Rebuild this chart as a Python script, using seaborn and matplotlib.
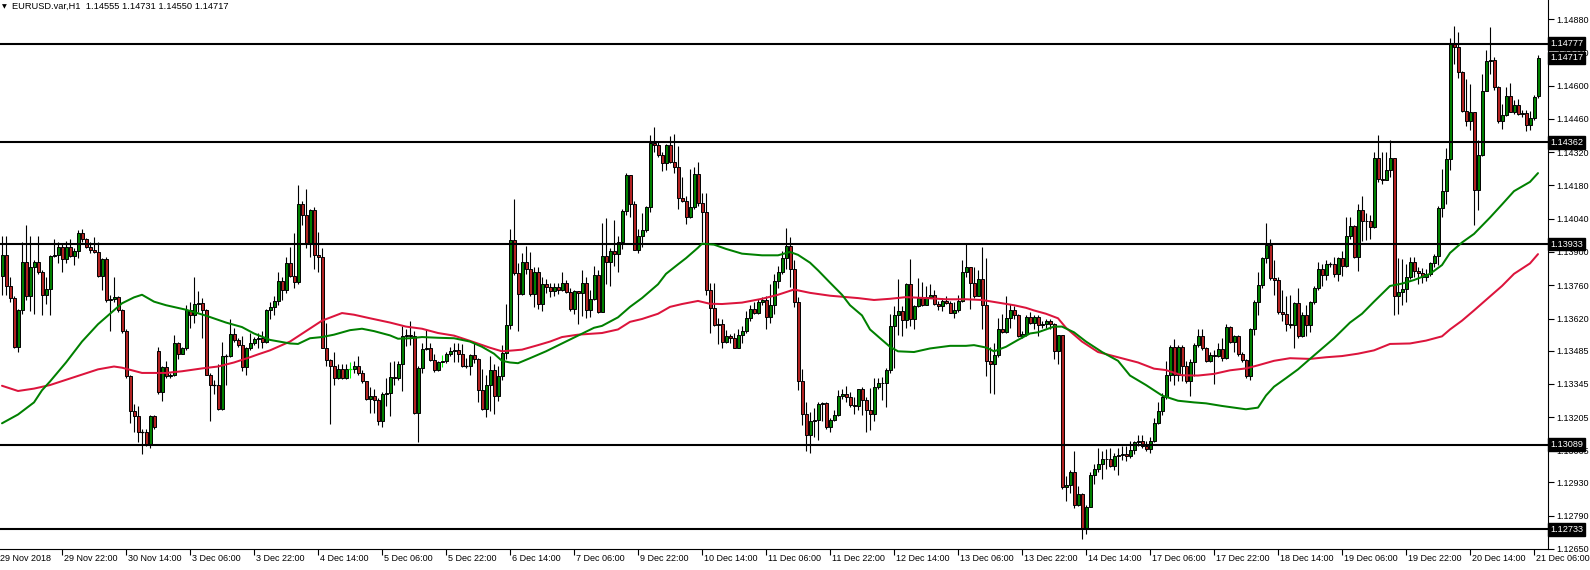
import numpy as np
import pandas as pd
import matplotlib
matplotlib.use("Agg")
import matplotlib.pyplot as plt
import seaborn as sns

# ---------------- data (prices in 1e-5 units, i.e. 113888 = 1.13888) ----------------
header_text = "EURUSD.var,H1  1.14555 1.14731 1.14550 1.14717"

first_open_pts = 113801
gap_open_pts = {39: 113482, 384: 114555}

close_pts = [
    113888, 113757, 113706, 113501, 113657, 113859, 113713, 113837, 113859, 113815, 113720, 113745, 113884, 113888, 113922, 113869, 113922, 113885, 113903, 113979,
    113954, 113922, 113907, 113900, 113801, 113869, 113698, 113701, 113710, 113654, 113567, 113377, 113230, 113208, 113143, 113143, 113087, 113211, 113165, 113311,
    113418, 113377, 113384, 113518, 113472, 113497, 113657, 113633, 113679, 113687, 113657, 113384, 113340, 113340, 113241, 113464, 113464, 113555, 113530, 113508,
    113416, 113494, 113515, 113533, 113537, 113523, 113657, 113669, 113694, 113776, 113739, 113855, 113798, 113774, 114103, 114057, 113935, 114076, 113888, 113878,
    113498, 113445, 113421, 113369, 113409, 113369, 113409, 113409, 113421, 113391, 113355, 113282, 113296, 113277, 113187, 113304, 113307, 113372, 113369, 113428,
    113545, 113552, 113548, 113223, 113413, 113491, 113494, 113445, 113402, 113438, 113442, 113469, 113482, 113489, 113471, 113421, 113421, 113467, 113450, 113321,
    113241, 113340, 113403, 113296, 113377, 113475, 113592, 113950, 113811, 113723, 113859, 113830, 113723, 113815, 113681, 113764, 113752, 113735, 113752, 113742,
    113771, 113732, 113662, 113735, 113728, 113771, 113654, 113703, 113805, 113647, 113884, 113859, 113903, 113893, 113940, 114071, 114225, 114103, 113910, 113969,
    113991, 114089, 114359, 114352, 114310, 114276, 114352, 114280, 114258, 114127, 114115, 114049, 114089, 114229, 114105, 114068, 113742, 113666, 113593, 113599,
    113523, 113545, 113537, 113497, 113552, 113567, 113621, 113659, 113644, 113691, 113698, 113628, 113676, 113776, 113815, 113874, 113925, 113830, 113691, 113355,
    113220, 113128, 113187, 113191, 113260, 113263, 113165, 113194, 113213, 113296, 113301, 113289, 113255, 113252, 113323, 113277, 113235, 113219, 113333, 113347,
    113350, 113402, 113588, 113635, 113650, 113615, 113764, 113618, 113672, 113706, 113676, 113709, 113720, 113679, 113673, 113694, 113684, 113644, 113654, 113694,
    113815, 113837, 113771, 113716, 113786, 113676, 113442, 113428, 113467, 113577, 113564, 113621, 113657, 113633, 113545, 113555, 113625, 113603, 113625, 113593,
    113599, 113611, 113596, 113484, 113549, 112909, 112919, 112972, 112836, 112880, 112733, 112828, 112963, 112985, 113007, 113030, 113029, 112999, 113040, 113045,
    113051, 113043, 113065, 113099, 113103, 113084, 113070, 113106, 113179, 113230, 113289, 113384, 113501, 113384, 113501, 113421, 113355, 113435, 113508, 113545,
    113494, 113442, 113467, 113462, 113491, 113453, 113584, 113523, 113545, 113469, 113445, 113380, 113577, 113691, 113760, 113874, 113931, 113789, 113782, 113647,
    113640, 113596, 113592, 113684, 113545, 113633, 113593, 113688, 113750, 113827, 113804, 113849, 113849, 113808, 113874, 113840, 113969, 114008, 113881, 114076,
    114030, 114032, 114005, 114295, 114207, 114203, 114247, 114295, 113713, 113731, 113745, 113793, 113859, 113820, 113812, 113793, 113808, 113852, 113885, 114086,
    114156, 114293, 114777, 114763, 114659, 114495, 114451, 114488, 114159, 114310, 114578, 114703, 114707, 114595, 114451, 114478, 114558, 114491, 114517, 114480,
    114485, 114434, 114463, 114554, 114717,
]

high_pts = [
    113969, 113969, 113793, 113713, 113662, 113940, 114013, 113969, 113866, 113969, 113823, 113793, 113888, 113954, 113940, 113932, 113947, 113954, 113918, 113991,
    113998, 113957, 113940, 113962, 113940, 113874, 113881, 113720, 113793, 113713, 113662, 113574, 113384, 113260, 113252, 113157, 113157, 113213, 113216, 113501,
    113421, 113442, 113391, 113552, 113523, 113501, 113676, 113691, 113793, 113735, 113706, 113662, 113391, 113362, 113428, 113523, 113471, 113618, 113581, 113537,
    113548, 113501, 113559, 113544, 113559, 113567, 113662, 113691, 113713, 113815, 113793, 113878, 113922, 113979, 114181, 114115, 114166, 114081, 114090, 113983,
    113918, 113600, 113450, 113479, 113428, 113428, 113428, 113435, 113442, 113462, 113402, 113358, 113333, 113325, 113285, 113311, 113369, 113435, 113442, 113442,
    113588, 113574, 113611, 113567, 113421, 113515, 113577, 113515, 113471, 113442, 113467, 113479, 113501, 113515, 113515, 113511, 113454, 113471, 113518, 113454,
    113406, 113384, 113462, 113428, 113421, 113508, 113679, 113995, 114122, 113852, 113896, 113925, 113899, 113837, 113837, 113793, 113786, 113771, 113771, 113771,
    113815, 113782, 113750, 113738, 113735, 113823, 113793, 113742, 113840, 113823, 114024, 114042, 113918, 114035, 113969, 114081, 114232, 114225, 114115, 113998,
    114064, 114093, 114393, 114425, 114364, 114320, 114356, 114390, 114397, 114345, 114217, 114137, 114251, 114258, 114279, 114147, 114147, 113771, 113771, 113621,
    113618, 113571, 113555, 113559, 113574, 113588, 113650, 113676, 113691, 113701, 113709, 113713, 113767, 113808, 113840, 113903, 114001, 113964, 113866, 113709,
    113406, 113270, 113226, 113245, 113270, 113270, 113267, 113201, 113237, 113318, 113325, 113337, 113311, 113289, 113325, 113333, 113289, 113328, 113369, 113369,
    113372, 113413, 113640, 113673, 113786, 113673, 113771, 113869, 113676, 113789, 113774, 113757, 113767, 113742, 113694, 113706, 113713, 113694, 113691, 113720,
    113866, 113933, 113837, 113837, 113823, 113921, 113874, 113501, 113515, 113621, 113640, 113713, 113679, 113673, 113640, 113567, 113633, 113647, 113633, 113633,
    113611, 113618, 113618, 113603, 113552, 113552, 112957, 112982, 113062, 112916, 112887, 112836, 112972, 113007, 113074, 113062, 113070, 113077, 113055, 113077,
    113084, 113084, 113103, 113106, 113131, 113128, 113106, 113121, 113201, 113267, 113308, 113442, 113508, 113533, 113508, 113508, 113442, 113450, 113515, 113574,
    113574, 113501, 113479, 113486, 113515, 113537, 113596, 113588, 113552, 113552, 113479, 113450, 113581, 113698, 113815, 113881, 114020, 113954, 113866, 113796,
    113742, 113713, 113720, 113691, 113750, 113647, 113676, 113694, 113757, 113859, 113849, 113866, 113859, 113881, 113881, 113903, 114049, 114049, 114013, 114100,
    114137, 114064, 114057, 114320, 114393, 114320, 114320, 114371, 114295, 113874, 113869, 113849, 113881, 113881, 113837, 113833, 113830, 113859, 113893, 114093,
    114251, 114337, 114802, 114853, 114824, 114663, 114627, 114605, 114488, 114371, 114649, 114751, 114846, 114719, 114597, 114521, 114593, 114612, 114539, 114542,
    114498, 114498, 114495, 114561, 114731,
]

low_pts = [
    113720, 113720, 113691, 113494, 113479, 113640, 113698, 113650, 113640, 113808, 113633, 113679, 113635, 113881, 113852, 113815, 113852, 113881, 113845, 113874,
    113940, 113918, 113896, 113896, 113793, 113742, 113691, 113567, 113691, 113647, 113559, 113369, 113179, 113143, 113099, 113048, 113084, 113077, 113157, 113304,
    113274, 113369, 113369, 113377, 113450, 113469, 113486, 113581, 113603, 113647, 113537, 113384, 113187, 113304, 113237, 113235, 113340, 113457, 113523, 113501,
    113398, 113384, 113486, 113508, 113494, 113494, 113515, 113618, 113633, 113676, 113698, 113728, 113793, 113749, 113764, 114013, 113918, 113881, 113830, 113815,
    113494, 113421, 113176, 113340, 113367, 113367, 113367, 113369, 113391, 113384, 113347, 113279, 113223, 113223, 113172, 113162, 113252, 113211, 113340, 113362,
    113315, 113504, 113508, 113220, 113099, 113391, 113486, 113442, 113396, 113398, 113418, 113431, 113464, 113435, 113435, 113416, 113410, 113384, 113431, 113270,
    113237, 113204, 113230, 113220, 113274, 113362, 113450, 113574, 113804, 113567, 113720, 113808, 113713, 113669, 113662, 113652, 113728, 113709, 113713, 113723,
    113735, 113728, 113652, 113640, 113599, 113630, 113621, 113625, 113698, 113644, 113647, 113767, 113757, 113840, 113815, 113913, 114054, 114049, 113907, 113896,
    113922, 113986, 114068, 114320, 114298, 114242, 114244, 114276, 114232, 114081, 114112, 114016, 114045, 114083, 114093, 113940, 113720, 113559, 113589, 113511,
    113497, 113515, 113515, 113494, 113494, 113515, 113559, 113611, 113640, 113640, 113676, 113574, 113603, 113640, 113749, 113808, 113830, 113752, 113669, 113318,
    113172, 113063, 113055, 113121, 113109, 113187, 113157, 113143, 113187, 113208, 113282, 113270, 113248, 113219, 113237, 113216, 113143, 113150, 113187, 113325,
    113277, 113249, 113391, 113413, 113552, 113545, 113581, 113588, 113577, 113669, 113673, 113676, 113706, 113676, 113654, 113653, 113679, 113643, 113621, 113647,
    113691, 113793, 113662, 113706, 113713, 113574, 113377, 113307, 113304, 113457, 113559, 113559, 113581, 113618, 113542, 113537, 113545, 113596, 113574, 113545,
    113581, 113581, 113574, 113450, 113428, 112902, 112850, 112887, 112821, 112831, 112694, 112714, 112826, 112923, 112975, 112945, 112986, 112997, 112982, 112960,
    113026, 113021, 113033, 113051, 113084, 113077, 113062, 113055, 113099, 113176, 113216, 113282, 113355, 113340, 113358, 113355, 113347, 113296, 113377, 113501,
    113486, 113439, 113435, 113343, 113457, 113442, 113450, 113515, 113479, 113464, 113435, 113369, 113362, 113552, 113633, 113749, 113852, 113782, 113720, 113640,
    113611, 113567, 113581, 113497, 113537, 113542, 113545, 113564, 113679, 113742, 113757, 113782, 113837, 113793, 113779, 113801, 113837, 113954, 113874, 113820,
    113947, 113950, 113954, 114001, 114195, 114188, 114203, 114217, 113635, 113640, 113676, 113691, 113786, 113793, 113767, 113771, 113776, 113801, 113837, 113845,
    114046, 114100, 114244, 114690, 114634, 114488, 114429, 114412, 114013, 114076, 114302, 114578, 114649, 114580, 114444, 114419, 114473, 114488, 114480, 114476,
    114470, 114410, 114415, 114454, 114550,
]

lime_bars = [87, 110]

# fast moving average (green), read at sampled bars
fast_ma_bar = [0, 4, 8, 10, 12, 16, 20, 24, 27, 30, 33, 35, 38, 41, 46, 51, 56, 60, 63, 67,
               72, 74, 77, 80, 83, 87, 90, 93, 97, 99, 102, 105, 109, 113, 117, 120, 123, 125, 127, 129,
               132, 136, 140, 144, 148, 150, 154, 157, 160, 164, 166, 169, 171, 174, 175, 178, 181, 185, 190, 194,
               197, 199, 202, 204, 207, 210, 212, 215, 217, 220, 222, 224, 228, 232, 237, 241, 243, 246, 248, 251,
               254, 257, 259, 263, 265, 268, 271, 275, 279, 282, 286, 290, 294, 298, 301, 305, 308, 311, 314, 316,
               318, 321, 324, 327, 331, 333, 337, 340, 343, 347, 350, 353, 357, 360, 362, 365, 368, 372, 375, 378,
               382, 384]
fast_ma_pts = [113179, 113216, 113267, 113318, 113355, 113435, 113523, 113596, 113640, 113684, 113709, 113720, 113691, 113676, 113657, 113632, 113603, 113584, 113557, 113530,
               113515, 113513, 113537, 113542, 113552, 113571, 113577, 113567, 113549, 113535, 113537, 113542, 113539, 113537, 113523, 113501, 113472, 113442, 113435, 113432,
               113453, 113482, 113515, 113548, 113581, 113589, 113625, 113669, 113706, 113764, 113808, 113848, 113874, 113918, 113935, 113931, 113913, 113893, 113886, 113886,
               113900, 113888, 113855, 113823, 113771, 113720, 113676, 113633, 113574, 113530, 113501, 113482, 113479, 113494, 113505, 113505, 113508, 113498, 113482, 113501,
               113530, 113557, 113562, 113586, 113586, 113562, 113523, 113479, 113442, 113380, 113340, 113296, 113274, 113267, 113263, 113252, 113245, 113238, 113245, 113296,
               113333, 113369, 113406, 113450, 113508, 113537, 113603, 113640, 113691, 113757, 113767, 113782, 113808, 113845, 113896, 113940, 113976, 114045, 114100, 114156,
               114195, 114232]

# slow moving average (red), read at sampled bars
slow_ma_bar = [0, 4, 8, 12, 16, 20, 24, 28, 30, 35, 41, 45, 50, 54, 58, 62, 64, 67, 72, 76,
               80, 85, 88, 92, 97, 101, 105, 109, 113, 117, 122, 125, 128, 130, 134, 137, 140, 144, 150, 154,
               157, 160, 164, 167, 170, 174, 177, 180, 185, 190, 194, 198, 202, 207, 214, 218, 222, 226, 231, 236,
               241, 245, 249, 253, 256, 258, 261, 264, 266, 270, 274, 279, 284, 288, 291, 295, 299, 303, 307, 311,
               314, 318, 322, 327, 331, 335, 339, 343, 347, 352, 356, 360, 362, 365, 368, 372, 375, 378, 382, 384]
slow_ma_pts = [113337, 113315, 113325, 113340, 113362, 113384, 113406, 113418, 113413, 113391, 113391, 113398, 113410, 113418, 113435, 113457, 113469, 113486, 113523, 113567,
               113611, 113643, 113636, 113621, 113603, 113586, 113577, 113559, 113548, 113526, 113497, 113482, 113486, 113489, 113508, 113523, 113542, 113552, 113559, 113574,
               113606, 113618, 113640, 113669, 113681, 113694, 113682, 113681, 113687, 113703, 113720, 113742, 113728, 113716, 113706, 113698, 113703, 113710, 113706, 113701,
               113701, 113698, 113687, 113676, 113665, 113654, 113640, 113621, 113581, 113523, 113479, 113457, 113435, 113409, 113403, 113381, 113380, 113387, 113402, 113410,
               113423, 113442, 113453, 113450, 113457, 113462, 113472, 113486, 113513, 113515, 113527, 113545, 113574, 113611, 113654, 113713, 113757, 113808, 113852, 113891]

level_prices = [1.14777, 1.14362, 1.13933, 1.13089, 1.12733]
last_price = 1.14717

ytick_values = [1.14880, 1.14740, 1.14600, 1.14460, 1.14320, 1.14180, 1.14040, 1.13900,
                1.13760, 1.13620, 1.13485, 1.13345, 1.13205, 1.13065, 1.12930, 1.12790, 1.12650]

xtick_labels = ["29 Nov 2018", "29 Nov 22:00", "30 Nov 14:00", "3 Dec 06:00", "3 Dec 22:00",
                "4 Dec 14:00", "5 Dec 06:00", "5 Dec 22:00", "6 Dec 14:00", "7 Dec 06:00",
                "9 Dec 22:00", "10 Dec 14:00", "11 Dec 06:00", "11 Dec 22:00", "12 Dec 14:00",
                "13 Dec 06:00", "13 Dec 22:00", "14 Dec 14:00", "17 Dec 06:00", "17 Dec 22:00",
                "18 Dec 14:00", "19 Dec 06:00", "19 Dec 22:00", "20 Dec 14:00", "21 Dec 06:00"]
bars_per_label = 16
first_label_bar = -1

# ---------------- build ----------------
sns.set_theme(style="white")
plt.rcParams["font.family"] = ["Liberation Sans", "DejaVu Sans"]

open_list = [first_open_pts] + close_pts[:-1]
for k, v in gap_open_pts.items():
    open_list[k] = v
opn = np.array(open_list) / 1e5
close = np.array(close_pts) / 1e5
high = np.array(high_pts) / 1e5
low = np.array(low_pts) / 1e5
high = np.maximum(high, np.maximum(opn, close))
low = np.minimum(low, np.minimum(opn, close))
n = len(close)
x = np.arange(n)

fig = plt.figure(figsize=(15.9, 5.7), dpi=100)
ax = fig.add_axes([0, 21 / 570, 1548 / 1590, 549 / 570])
ax.set_facecolor("white")

wick_cols = ["#00FF00" if i in lime_bars else "black" for i in range(n)]
ax.vlines(x, low, high, colors=wick_cols, lw=0.8, zorder=2)
up = close > opn
dn = close < opn
flat = ~(up | dn)
ax.bar(x[up], (close - opn)[up], bottom=opn[up], width=0.75, color="#008000",
       edgecolor="black", linewidth=0.7, zorder=3)
ax.bar(x[dn], (close - opn)[dn], bottom=opn[dn], width=0.75, color="#B22222",
       edgecolor="black", linewidth=0.7, zorder=3)
ax.hlines(close[flat], x[flat] - 0.4, x[flat] + 0.4,
          colors=[wick_cols[i] for i in x[flat]], lw=0.9, zorder=3)

fast_df = pd.DataFrame({"bar": fast_ma_bar, "price": np.array(fast_ma_pts) / 1e5})
slow_df = pd.DataFrame({"bar": slow_ma_bar, "price": np.array(slow_ma_pts) / 1e5})
sns.lineplot(data=slow_df, x="bar", y="price", color="#DC143C", lw=1.45, ax=ax, zorder=5)
sns.lineplot(data=fast_df, x="bar", y="price", color="#008000", lw=1.45, ax=ax, zorder=5)

for lv in level_prices:
    ax.axhline(lv, color="black", lw=1.5, zorder=4)

ax.set_xlim(-0.5, 386.5)
ax.set_ylim(1.126501, 1.149605)
ax.set_xlabel("")
ax.set_ylabel("")

# right price axis
ax.yaxis.tick_right()
ax.set_yticks(ytick_values)
ax.set_yticklabels([f"{v:.5f}" for v in ytick_values])
ax.tick_params(axis="y", direction="out", length=4, width=0.8, color="black",
               labelsize=6.5, pad=2, labelcolor="black", right=True, left=False)

# bottom time axis
tick_pos = [first_label_bar + bars_per_label * k for k in range(len(xtick_labels))]
ax.set_xticks([p for p in tick_pos if p >= -0.5])
ax.tick_params(axis="x", direction="out", length=4, width=0.8, color="black",
               bottom=True, labelbottom=False)
xtr = ax.get_xaxis_transform()
for p, lab in zip(tick_pos, xtick_labels):
    ax.text(p + 0.5, -0.009, lab, transform=xtr, ha="left", va="top",
            fontsize=6.5, color="black", clip_on=False)

for s in ["top", "left"]:
    ax.spines[s].set_visible(False)
for s in ["right", "bottom"]:
    ax.spines[s].set_visible(True)
    ax.spines[s].set_color("black")
    ax.spines[s].set_linewidth(0.8)

# price boxes on the right axis
ytr = ax.get_yaxis_transform()
for lv in level_prices + [last_price]:
    ax.text(1.0015, lv, f"{lv:.5f}", transform=ytr, ha="left", va="center",
            color="white", fontsize=6.6, clip_on=False, zorder=10,
            bbox=dict(boxstyle="square,pad=0.2", fc="black", ec="black"))

# header
fig.text(2 / 1590, 1 - 6.5 / 570, "\u25BC", fontsize=4.5, family="DejaVu Sans",
         va="center", ha="left", color="black")
fig.text(12 / 1590, 1 - 6.5 / 570, header_text, fontsize=6.7, va="center",
         ha="left", color="black")

fig.savefig("out.png", dpi=100, facecolor="white")
